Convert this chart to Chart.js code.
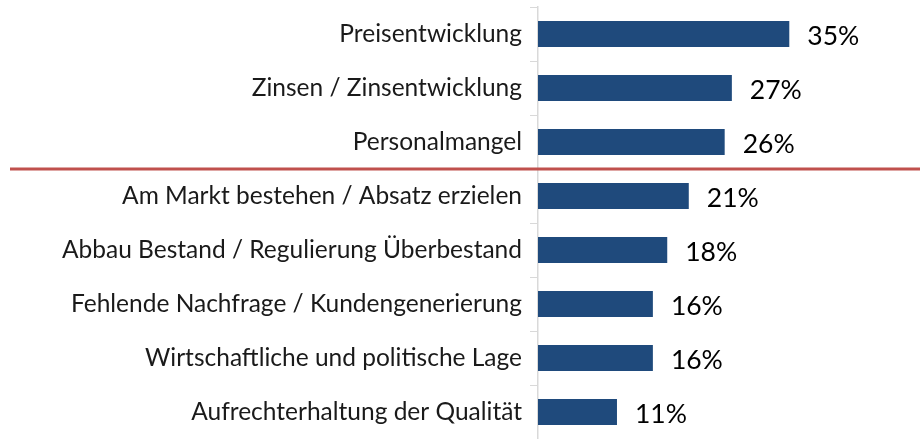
<!DOCTYPE html>
<html>
<head>
<meta charset="utf-8">
<script src="https://cdn.jsdelivr.net/npm/chart.js@4"></script>
<style>
  body { margin: 0; background: #fff; }
  #wrap { width: 920px; height: 439px; position: relative; }
</style>
</head>
<body>
<div id="wrap"><canvas id="sorgenChart"></canvas></div>
<script>
const kategorien = [
  "Preisentwicklung",
  "Zinsen / Zinsentwicklung",
  "Personalmangel",
  "Am Markt bestehen / Absatz erzielen",
  "Abbau Bestand / Regulierung Überbestand",
  "Fehlende Nachfrage / Kundengenerierung",
  "Wirtschaftliche und politische Lage",
  "Aufrechterhaltung der Qualität"
];
const anteile = [35, 27, 26, 21, 18, 16, 16, 11];
const trennNach = 2; // red line below "Personalmangel"

// value labels to the right of each bar
const werteLabels = {
  id: 'werteLabels',
  afterDatasetsDraw(chart) {
    const ctx = chart.ctx;
    const meta = chart.getDatasetMeta(0);
    ctx.save();
    ctx.font = '26.5px Lato';
    ctx.fillStyle = '#000';
    ctx.textBaseline = 'middle';
    ctx.textAlign = 'left';
    meta.data.forEach((bar, i) => {
      ctx.fillText(anteile[i] + '%', bar.x + 18, bar.y + 2);
    });
    ctx.restore();
  }
};

// red separator line
const trennLinie = {
  id: 'trennLinie',
  afterDraw(chart) {
    const y = chart.scales.y;
    const yPos = (y.getPixelForValue(trennNach) + y.getPixelForValue(trennNach + 1)) / 2;
    const ctx = chart.ctx;
    ctx.save();
    ctx.strokeStyle = '#C0504D';
    ctx.lineWidth = 3;
    ctx.beginPath();
    ctx.moveTo(10, yPos);
    ctx.lineTo(920, yPos);
    ctx.stroke();
    ctx.restore();
  }
};

const ctx = document.getElementById('sorgenChart').getContext('2d');
new Chart(ctx, {
  type: 'bar',
  data: {
    labels: kategorien,
    datasets: [{
      data: anteile,
      backgroundColor: '#1F4A7C',
      categoryPercentage: 0.48,
      barPercentage: 1
    }]
  },
  options: {
    indexAxis: 'y',
    responsive: true,
    maintainAspectRatio: false,
    animation: false,
    layout: { padding: { top: 7, bottom: 0, right: 23, left: 0 } },
    plugins: {
      legend: { display: false },
      tooltip: { enabled: false }
    },
    scales: {
      x: {
        display: false,
        min: 0,
        max: 50
      },
      y: {
        afterFit(scale) {
          scale.width = 538;
          scale.paddingTop = 0;
          scale.paddingBottom = 0;
        },
        border: { color: '#D9D9D9', width: 1.5 },
        grid: {
          drawOnChartArea: false,
          color: '#D9D9D9',
          tickLength: 8,
          offset: true
        },
        ticks: {
          color: '#1a1a1a',
          padding: 8,
          font: { family: 'Lato', size: 24.5 }
        }
      }
    }
  },
  plugins: [werteLabels, trennLinie]
});
</script>
</body>
</html>
